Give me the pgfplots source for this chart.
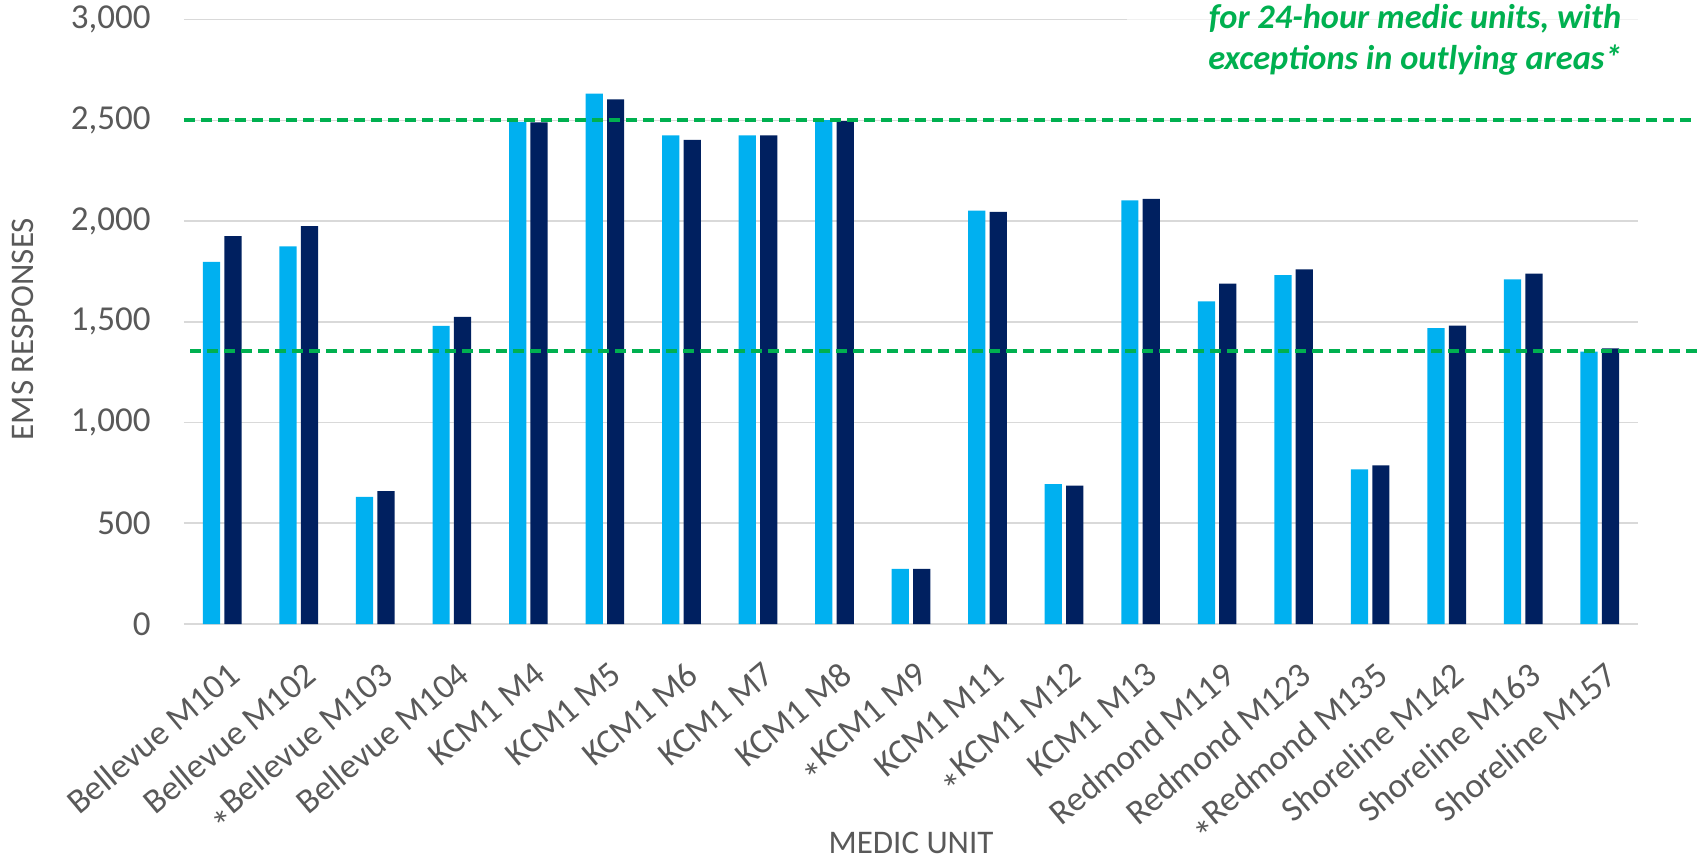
\documentclass[border=0pt]{standalone}
\usepackage{pgfplots}
\pgfplotsset{compat=1.18}
\usepackage{pgfplotstable}
\usepackage{fontspec}
\setmainfont{Carlito}
\definecolor{lblue}{HTML}{00B0F0}
\definecolor{navy}{HTML}{002060}
\definecolor{exgreen}{HTML}{00B050}
\definecolor{txtgray}{HTML}{595959}
\definecolor{gridgray}{HTML}{D9D9D9}
\newcommand\st{\raisebox{-0.45em}{\fontsize{20}{20}\selectfont *}}

\pgfplotstableread{
x a b
0 1797 1925
1 1874 1975
2 631 659
3 1480 1524
4 2492 2490
5 2632 2604
6 2425 2403
7 2425 2425
8 2501 2496
9 274 274
10 2052 2046
11 694 687
12 2103 2110
13 1602 1689
14 1732 1760
15 767 787
16 1469 1481
17 1710 1739
18 1352 1368
}\datatable

\pgfplotstableread{
x y
-0.5 2500
19.27 2500
}\upperline
\pgfplotstableread{
x y
-0.42 1355
19.3 1355
}\lowerline

\begin{document}
\begin{tikzpicture}
\path[use as bounding box] (0,0) rectangle (853.5pt,429pt);
\begin{axis}[
  at={(92pt,117pt)}, anchor=south west,
  width=727pt, height=302.2pt, scale only axis,
  xmin=-0.5, xmax=18.5, ymin=0, ymax=3000,
  axis line style={draw=none},
  ymajorgrids, grid style={gridgray, line width=0.8pt},
  major tick length=0,
  ytick={0,500,1000,1500,2000,2500,3000},
  /pgf/number format/assume math mode=true,
  /pgf/number format/1000 sep={,},
  yticklabel style={font=\fontsize{17.5}{20}\selectfont, text=txtgray, inner sep=0pt, anchor=east, xshift=-16.5pt},
  xtick={0,...,18},
  xticklabels={Bellevue M101, Bellevue M102, \st Bellevue M103, Bellevue M104, KCM1 M4, KCM1 M5, KCM1 M6, KCM1 M7, KCM1 M8, \st KCM1 M9, KCM1 M11, \st KCM1 M12, KCM1 M13, Redmond M119, Redmond M123, \st Redmond M135, Shoreline M142, Shoreline M163, Shoreline M157},
  xticklabel style={font=\fontsize{17.5}{20}\selectfont, text=txtgray, inner sep=0pt, anchor=north east, xshift=2pt, yshift=-18pt, rotate=40},
  xlabel={MEDIC UNIT},
  xlabel style={font=\fontsize{16.5}{18}\selectfont, text=txtgray, at={(axis description cs:0.5,-0.362)}, anchor=center},
  ylabel={EMS RESPONSES},
  ylabel style={font=\fontsize{16.5}{18}\selectfont, text=txtgray, at={(axis description cs:-0.111,0.488)}, anchor=center},
  clip=false,
  ybar, bar width=0.225,
]
\addplot[fill=lblue, draw=none, bar shift=-0.14] table[x=x, y=a] {\datatable};
\addplot[fill=navy, draw=none, bar shift=0.14] table[x=x, y=b] {\datatable};
\addplot[sharp plot, exgreen, line width=2pt, dash pattern=on 5.5pt off 3pt] table[x=x, y=y] {\upperline};
\addplot[sharp plot, exgreen, line width=2pt, dash pattern=on 5.5pt off 3pt] table[x=x, y=y] {\lowerline};
\end{axis}
\fill[white, opacity=0.65] (563.5pt,400pt) rectangle (825pt,429pt);
\node[text=exgreen, font=\bfseries\itshape\fontsize{17.2}{20}\selectfont, anchor=base, inner sep=0pt] at (707.5pt,414.5pt) {for 24-hour medic units, with};
\node[text=exgreen, font=\bfseries\itshape\fontsize{17.2}{20}\selectfont, anchor=base, inner sep=0pt] at (707.5pt,394pt) {exceptions in outlying areas*};
\end{tikzpicture}
\end{document}
